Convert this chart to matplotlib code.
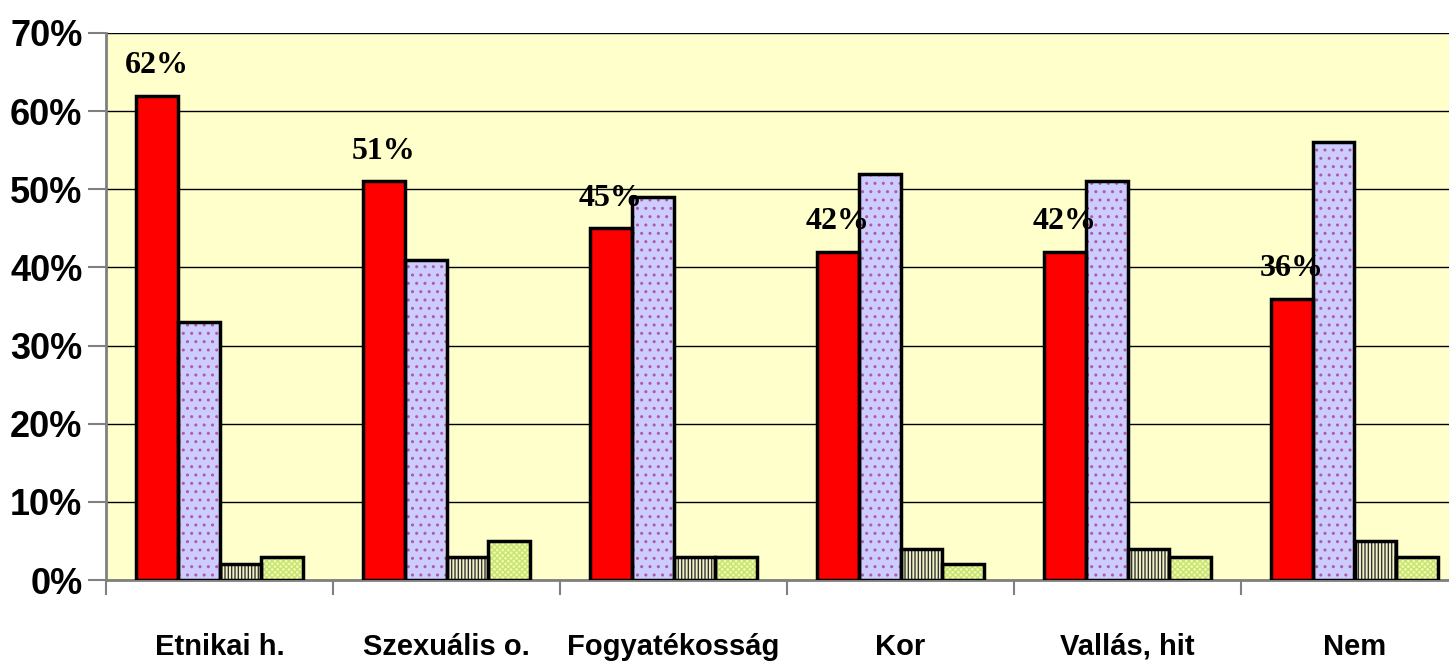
import numpy as np
import matplotlib.pyplot as plt
from matplotlib.ticker import FixedLocator

categories = ['Etnikai h.', 'Szexuális o.', 'Fogyatékosság', 'Kor', 'Vallás, hit', 'Nem']
red_vals = [62, 51, 45, 42, 42, 36]
blue_vals = [33, 41, 49, 52, 51, 56]
stripe_vals = [2, 3, 3, 4, 4, 5]
green_vals = [3, 5, 3, 2, 3, 3]
yticks = [0, 10, 20, 30, 40, 50, 60, 70]

sans = ['Liberation Sans', 'DejaVu Sans']
serif = ['Liberation Serif', 'DejaVu Serif']

plt.rcParams['hatch.linewidth'] = 1.0

fig = plt.figure(figsize=(14.49, 6.72), dpi=100)
ax = fig.add_axes([106 / 1449, 92 / 672, 1362 / 1449, 547 / 672])
ax.set_facecolor('#FFFFCC')

x = np.arange(len(categories))
w = 0.185
offs = [-1.5 * w, -0.5 * w, 0.5 * w, 1.5 * w]

series = [
    (red_vals, '#FF0000', None, 'black'),
    (blue_vals, '#CCCCFF', '..', '#B05AA0'),
    (stripe_vals, '#F2F2C8', '|||||', '#333333'),
    (green_vals, '#EEFF99', 'xxxxxx', '#C8E080'),
]

for (vals, fc, hatch, hc), off in zip(series, offs):
    # fill with hatch in its own colour, then a black outline on top
    ax.bar(x + off, vals, w, color=fc, hatch=hatch, edgecolor=hc, linewidth=0, zorder=3)
    ax.bar(x + off, vals, w, facecolor='none', edgecolor='black', linewidth=2.5, zorder=4)

for xi, v in zip(x, red_vals):
    ax.text(xi + offs[0], v + 2.0, f'{v}%', ha='center', va='bottom',
            family=serif, fontweight='bold', fontsize=23, zorder=5)

ax.set_xlim(-0.5, len(categories) - 0.5)
ax.set_ylim(0, 70)
ax.set_yticks(yticks)
ax.set_yticklabels([f'{t}%' for t in yticks], family=sans, fontweight='bold', fontsize=26)
ax.yaxis.grid(True, color='black', linewidth=1)
ax.set_axisbelow(True)

ax.xaxis.set_major_locator(FixedLocator(np.arange(-0.5, len(categories), 1.0)))
ax.set_xticklabels([])
ax.xaxis.set_minor_locator(FixedLocator(x))
ax.set_xticklabels(categories, minor=True, family=sans, fontweight='bold', fontsize=21)
ax.tick_params(axis='x', which='minor', length=0, pad=38)
ax.tick_params(axis='x', which='major', length=11, color='#808080', width=1.5)
ax.tick_params(axis='y', length=13, color='#808080', width=1.5, pad=4)

for s in ['top', 'right']:
    ax.spines[s].set_visible(False)
for s in ['left', 'bottom']:
    ax.spines[s].set_color('#808080')
    ax.spines[s].set_linewidth(2)

fig.savefig('out.png', dpi=100)
